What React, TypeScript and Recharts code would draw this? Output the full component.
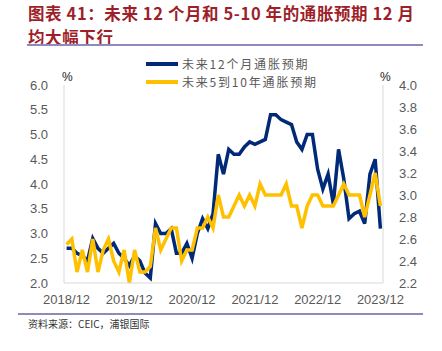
import React from "react";
import { LineChart, Line, XAxis, YAxis } from "recharts";

/* ─── Data ──────────────────────────────────────────────────── */

// 月度：2018/12 – 2023/12
const months: string[] = [];
for (let y = 2018; y <= 2023; y++) {
  for (let m = 1; m <= 12; m++) {
    if (y === 2018 && m < 12) continue;
    months.push(`${y}/${String(m).padStart(2, "0")}`);
  }
}

// 未来12个月通胀预期（左轴，%）
const expect12m = [
  2.7, 2.7, 2.6, 2.55, 2.45, 2.9, 2.7, 2.6, 2.7, 2.8, 2.6, 2.5,
  2.35, 2.55, 2.45, 2.2, 2.1, 3.2, 3.0, 3.0, 3.1, 2.6, 2.6, 2.8,
  2.5, 3.0, 3.3, 3.1, 3.4, 4.6, 4.2, 4.7, 4.6, 4.6, 4.75, 4.85,
  4.8, 4.85, 4.9, 5.4, 5.4, 5.3, 5.25, 5.2, 4.85, 4.7, 5.0, 5.0,
  4.3, 3.9, 4.2, 3.6, 4.7, 4.1, 3.3, 3.4, 3.45, 3.2, 4.2, 4.5,
  3.1,
];

// 未来5到10年通胀预期（右轴，%）
const expect5to10y = [
  2.55, 2.6, 2.3, 2.5, 2.3, 2.6, 2.3, 2.5, 2.6, 2.4, 2.3, 2.5,
  2.2, 2.5, 2.3, 2.3, 2.35, 2.7, 2.5, 2.6, 2.7, 2.7, 2.4, 2.5,
  2.5, 2.7, 2.7, 2.8, 2.7, 3.0, 2.8, 2.8, 2.9, 3.0, 2.9, 3.0,
  2.9, 3.1, 3.0, 3.0, 3.0, 3.0, 3.1, 2.9, 2.9, 2.7, 2.9, 3.0,
  3.0, 2.9, 2.9, 2.9, 3.0, 3.1, 3.0, 3.0, 3.0, 2.8, 3.0, 3.2,
  2.9,
];

const leftTicks = [2.0, 2.5, 3.0, 3.5, 4.0, 4.5, 5.0, 5.5, 6.0];
const rightTicks = [2.2, 2.4, 2.6, 2.8, 3.0, 3.2, 3.4, 3.6, 3.8, 4.0];

const seriesNames = ["未来12个月通胀预期", "未来5到10年通胀预期"];

const data = months.map((month, i) => ({
  month,
  short: expect12m[i],
  long: expect5to10y[i],
}));

/* ─── Styles ────────────────────────────────────────────────── */

const BLUE = "#002A78";
const YELLOW = "#FFC000";
const TEXT_GRAY = "#595959";
const AXIS_GRAY = "#D9D9D9";
const FONT = "'Liberation Sans', Arial, sans-serif";
const CJK = "'Noto Sans CJK SC', sans-serif";

const tick = { fill: TEXT_GRAY, fontSize: 13, fontFamily: FONT };

function LegendBox() {
  const rows = [
    { color: BLUE, name: seriesNames[0] },
    { color: YELLOW, name: seriesNames[1] },
  ];
  return (
    <div style={{ position: "absolute", left: 146, top: 55 }}>
      {rows.map((r) => (
        <div key={r.name} style={{ display: "flex", alignItems: "center", height: 18 }}>
          <span
            style={{
              display: "inline-block",
              width: 32,
              height: 4,
              background: r.color,
              marginRight: 4,
            }}
          />
          <span
            style={{
              color: TEXT_GRAY,
              fontSize: 12,
              lineHeight: "14px",
              fontFamily: CJK,
              letterSpacing: 1.8,
              whiteSpace: "nowrap",
            }}
          >
            {r.name}
          </span>
        </div>
      ))}
    </div>
  );
}

/* ─── Component ─────────────────────────────────────────────── */

export default function App() {
  return (
    <div
      style={{
        position: "absolute",
        left: 0,
        top: 0,
        width: 442,
        height: 351,
        background: "#fff",
        overflow: "hidden",
      }}
    >
      {/* ── Title ──────────────────────────────────────────── */}
      <div
        style={{
          position: "absolute",
          left: 28,
          top: 1,
          width: 410,
          color: "#9E1F2A",
          fontFamily: CJK,
          fontWeight: 700,
          fontSize: 16.5,
          lineHeight: "24px",
          letterSpacing: 0.6,
        }}
      >
        图表 41：未来 12 个月和 5-10 年的通胀预期 12 月
        <br />
        均大幅下行
      </div>
      <div
        style={{
          position: "absolute",
          left: 27,
          top: 44,
          width: 396,
          height: 1.5,
          background: "#8D8BBE",
        }}
      />

      {/* ── Chart ──────────────────────────────────────────── */}
      <div style={{ position: "absolute", left: 0, top: 0 }}>
        <LineChart
          width={442}
          height={351}
          data={data}
          margin={{ top: 85, right: 19, bottom: 38, left: 24 }}
        >
          <XAxis
            dataKey="month"
            interval={11}
            tick={tick}
            tickLine={false}
            axisLine={{ stroke: AXIS_GRAY }}
            padding={{ left: 2.6, right: 2.6 }}
            height={30}
            tickMargin={6}
          />
          <YAxis
            yAxisId="left"
            domain={[2, 6]}
            ticks={leftTicks}
            interval={0}
            tickFormatter={(v: number) => v.toFixed(1)}
            tick={tick}
            tickLine={false}
            axisLine={{ stroke: AXIS_GRAY }}
            width={40}
            tickMargin={10}
          />
          <YAxis
            yAxisId="right"
            orientation="right"
            domain={[2.2, 4.0]}
            ticks={rightTicks}
            interval={0}
            tickFormatter={(v: number) => v.toFixed(1)}
            tick={tick}
            tickLine={false}
            axisLine={{ stroke: AXIS_GRAY }}
            width={40}
            tickMargin={10}
          />
          <Line
            yAxisId="left"
            dataKey="short"
            name={seriesNames[0]}
            stroke={BLUE}
            strokeWidth={3.5}
            dot={false}
            isAnimationActive={false}
          />
          <Line
            yAxisId="right"
            dataKey="long"
            name={seriesNames[1]}
            stroke={YELLOW}
            strokeWidth={3.5}
            dot={false}
            isAnimationActive={false}
          />
        </LineChart>
      </div>

      <LegendBox />

      {/* ── Unit labels ────────────────────────────────────── */}
      <div style={{ position: "absolute", left: 62, top: 70, fontSize: 12, fontFamily: FONT, color: "#222" }}>%</div>
      <div style={{ position: "absolute", left: 380, top: 70, fontSize: 12, fontFamily: FONT, color: "#222" }}>%</div>

      {/* ── Source ─────────────────────────────────────────── */}
      <div
        style={{
          position: "absolute",
          left: 18,
          top: 313,
          width: 405,
          height: 1.5,
          background: "#8D8BBE",
        }}
      />
      <div
        style={{
          position: "absolute",
          left: 28,
          top: 316,
          fontSize: 10,
          fontFamily: CJK,
          color: "#333",
        }}
      >
        资料来源：CEIC，浦银国际
      </div>
    </div>
  );
}
